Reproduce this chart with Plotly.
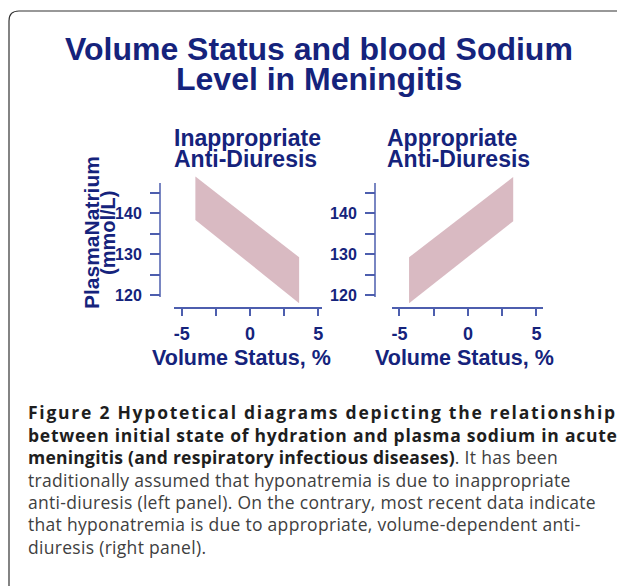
import plotly.graph_objects as go

# page body has an 8px margin: the figure starts at (8, 8) in the window
OX, OY = 8, 8
W, H = 625 - OX, 586 - OY


def px(x):
    return (x - OX) / W


def py(y):
    return 1 - (y - OY) / H


# ---------------- data ----------------
inapp_x = [-4.0, 3.6]
inapp_upper = [148.9, 129.2]
inapp_lower = [138.3, 118.0]

app_x = [-4.3, 3.3]
app_upper = [129.2, 148.8]
app_lower = [118.0, 138.0]

x_tickvals = [-5, -2.5, 0, 2.5, 5]
x_ticktext = ["-5", "", "0", "", "5"]
y_tickvals = [120, 125, 130, 135, 140, 145]
y_ticktext = ["120", "", "130", "", "140", ""]

panel_titles = [["Inappropriate", "Anti-Diuresis"], ["Appropriate", "Anti-Diuresis"]]
title_lines = ["Volume Status and blood Sodium", "Level in Meningitis"]
x_title = "Volume Status, %"
y_title = ["PlasmaNatrium", "(mmol/L)"]

# ---------------- style ----------------
NAVY = "#15237c"
AXIS = "#4d5eae"
BAND = "#d9bac2"
TXT = "#404040"
BOLDTXT = "#1e1e1e"
BOLD_FONT = "Liberation Sans"
CAP_FONT = "Open Sans"


def band(xs, up, lo):
    return dict(
        x=[xs[0], xs[1], xs[1], xs[0], xs[0]],
        y=[up[0], up[1], lo[1], lo[0], up[0]],
    )


fig = go.Figure()
b1 = band(inapp_x, inapp_upper, inapp_lower)
b2 = band(app_x, app_upper, app_lower)
fig.add_trace(go.Scatter(x=b1["x"], y=b1["y"], fill="toself", fillcolor=BAND,
                         mode="lines", line=dict(width=0, color=BAND),
                         xaxis="x", yaxis="y", showlegend=False, hoverinfo="skip"))
fig.add_trace(go.Scatter(x=b2["x"], y=b2["y"], fill="toself", fillcolor=BAND,
                         mode="lines", line=dict(width=0, color=BAND),
                         xaxis="x2", yaxis="y2", showlegend=False, hoverinfo="skip"))

# y mapping: 140 at pixel 213, 4.1 px per unit
Y_RANGE = [117, 150]


def ypix(v):
    return 213 - (v - 140) * 4.1


y_dom = [py(ypix(Y_RANGE[0])), py(ypix(Y_RANGE[1]))]

common_x = dict(anchor="free", position=py(308), showline=True, linecolor=AXIS,
                linewidth=1.5, ticks="outside", ticklen=7, tickwidth=1.5,
                tickcolor=AXIS, tickvals=x_tickvals, ticktext=x_ticktext,
                showgrid=False, zeroline=False, fixedrange=True,
                ticklabelstandoff=3,
                tickfont=dict(family=BOLD_FONT, size=18, color=NAVY, weight="bold"))
common_y = dict(anchor="free", showline=False, ticks="outside", ticklen=10,
                tickwidth=1.5, tickcolor=AXIS, tickvals=y_tickvals,
                ticktext=y_ticktext, showgrid=False, zeroline=False,
                range=Y_RANGE, domain=y_dom, fixedrange=True,
                ticklabelstandoff=5,
                tickfont=dict(family=BOLD_FONT, size=16, color=NAVY, weight="bold"))

# left panel x: 0 at 250 px, 13.65 px/unit ; right: 0 at 468, 13.7 px/unit
xr1 = [-5.57, 5.27]
xr2 = [-5.55, 5.45]
xd1 = [px(250 + xr1[0] * 13.65), px(250 + xr1[1] * 13.65)]
xd2 = [px(468 + xr2[0] * 13.7), px(468 + xr2[1] * 13.7)]

fig.update_layout(
    width=W, height=H,
    margin=dict(l=0, r=0, t=0, b=0),
    paper_bgcolor="white", plot_bgcolor="white",
    xaxis=dict(domain=xd1, range=xr1, **common_x),
    yaxis=dict(position=px(160), **common_y),
    xaxis2=dict(domain=xd2, range=xr2, **common_x),
    yaxis2=dict(position=px(375), **common_y),
)

shapes = []
# y axis lines
for xp, yref in [(160, "y"), (375, "y2")]:
    shapes.append(dict(type="line", xref="paper", yref=yref,
                       x0=px(xp), x1=px(xp), y0=119.5, y1=147.3,
                       line=dict(color=AXIS, width=1.5)))
# frame (top + left, rounded corner)
shapes.append(dict(type="path", xref="paper", yref="paper",
                   path=f"M {px(9)},{py(600)} L {px(9)},{py(21)} Q {px(9)},{py(11)} {px(19)},{py(11)} L {px(640)},{py(11)}",
                   line=dict(color="#333333", width=1.2)))
fig.update_layout(shapes=shapes)

ann = []
# main title
for txt, yc in zip(title_lines, [49, 79]):
    ann.append(dict(text=txt, x=px(319), y=py(yc), xref="paper", yref="paper",
                    xanchor="center", yanchor="middle", showarrow=False,
                    font=dict(family=BOLD_FONT, size=32, color=NAVY, weight="bold")))
# panel titles
for xl, lines in zip([172, 385], panel_titles):
    for txt, yc in zip(lines, [138, 159]):
        ann.append(dict(text=txt, x=px(xl), y=py(yc), xref="paper", yref="paper",
                        xanchor="left", yanchor="middle", showarrow=False,
                        font=dict(family=BOLD_FONT, size=23, color=NAVY, weight="bold")))
# x titles
for xc in [241.5, 465]:
    ann.append(dict(text=x_title, x=px(xc), y=py(358), xref="paper", yref="paper",
                    xanchor="center", yanchor="middle", showarrow=False,
                    font=dict(family=BOLD_FONT, size=21.5, color=NAVY, weight="bold")))
# y title
for txt, xc, fs in zip(y_title, [91, 108], [21, 20]):
    ann.append(dict(text=txt, x=px(xc), y=py(233), xref="paper", yref="paper",
                    xanchor="center", yanchor="middle", showarrow=False, textangle=-90,
                    font=dict(family=BOLD_FONT, size=fs, color=NAVY, weight="bold")))

# caption
B = "<b><span style='color:%s;letter-spacing:%spx'>%s</span></b>"
R = "<span style='letter-spacing:0.3px'>%s</span>"
caption = [
    (B % (BOLDTXT, 1.75, "Figure 2 Hypotetical diagrams depicting the relationship"), 419),
    (B % (BOLDTXT, 0.75, "between initial state of hydration and plasma sodium in acute"), 441.4),
    (B % (BOLDTXT, 0.25, "meningitis (and respiratory infectious diseases)") + R % ". It has been", 463.8),
    (R % "traditionally assumed that hyponatremia is due to inappropriate", 486.2),
    (R % "anti-diuresis (left panel). On the contrary, most recent data indicate", 508.6),
    (R % "that hyponatremia is due to appropriate, volume-dependent anti-", 531),
    (R % "diuresis (right panel).", 553.4),
]
for txt, base in caption:
    ann.append(dict(text=txt, x=px(26), y=py(base - 6.6), xref="paper", yref="paper",
                    xanchor="left", yanchor="middle", showarrow=False,
                    font=dict(family=CAP_FONT, size=17.5, color=TXT)))
fig.update_layout(annotations=ann)

fig.write_html("out.html")
